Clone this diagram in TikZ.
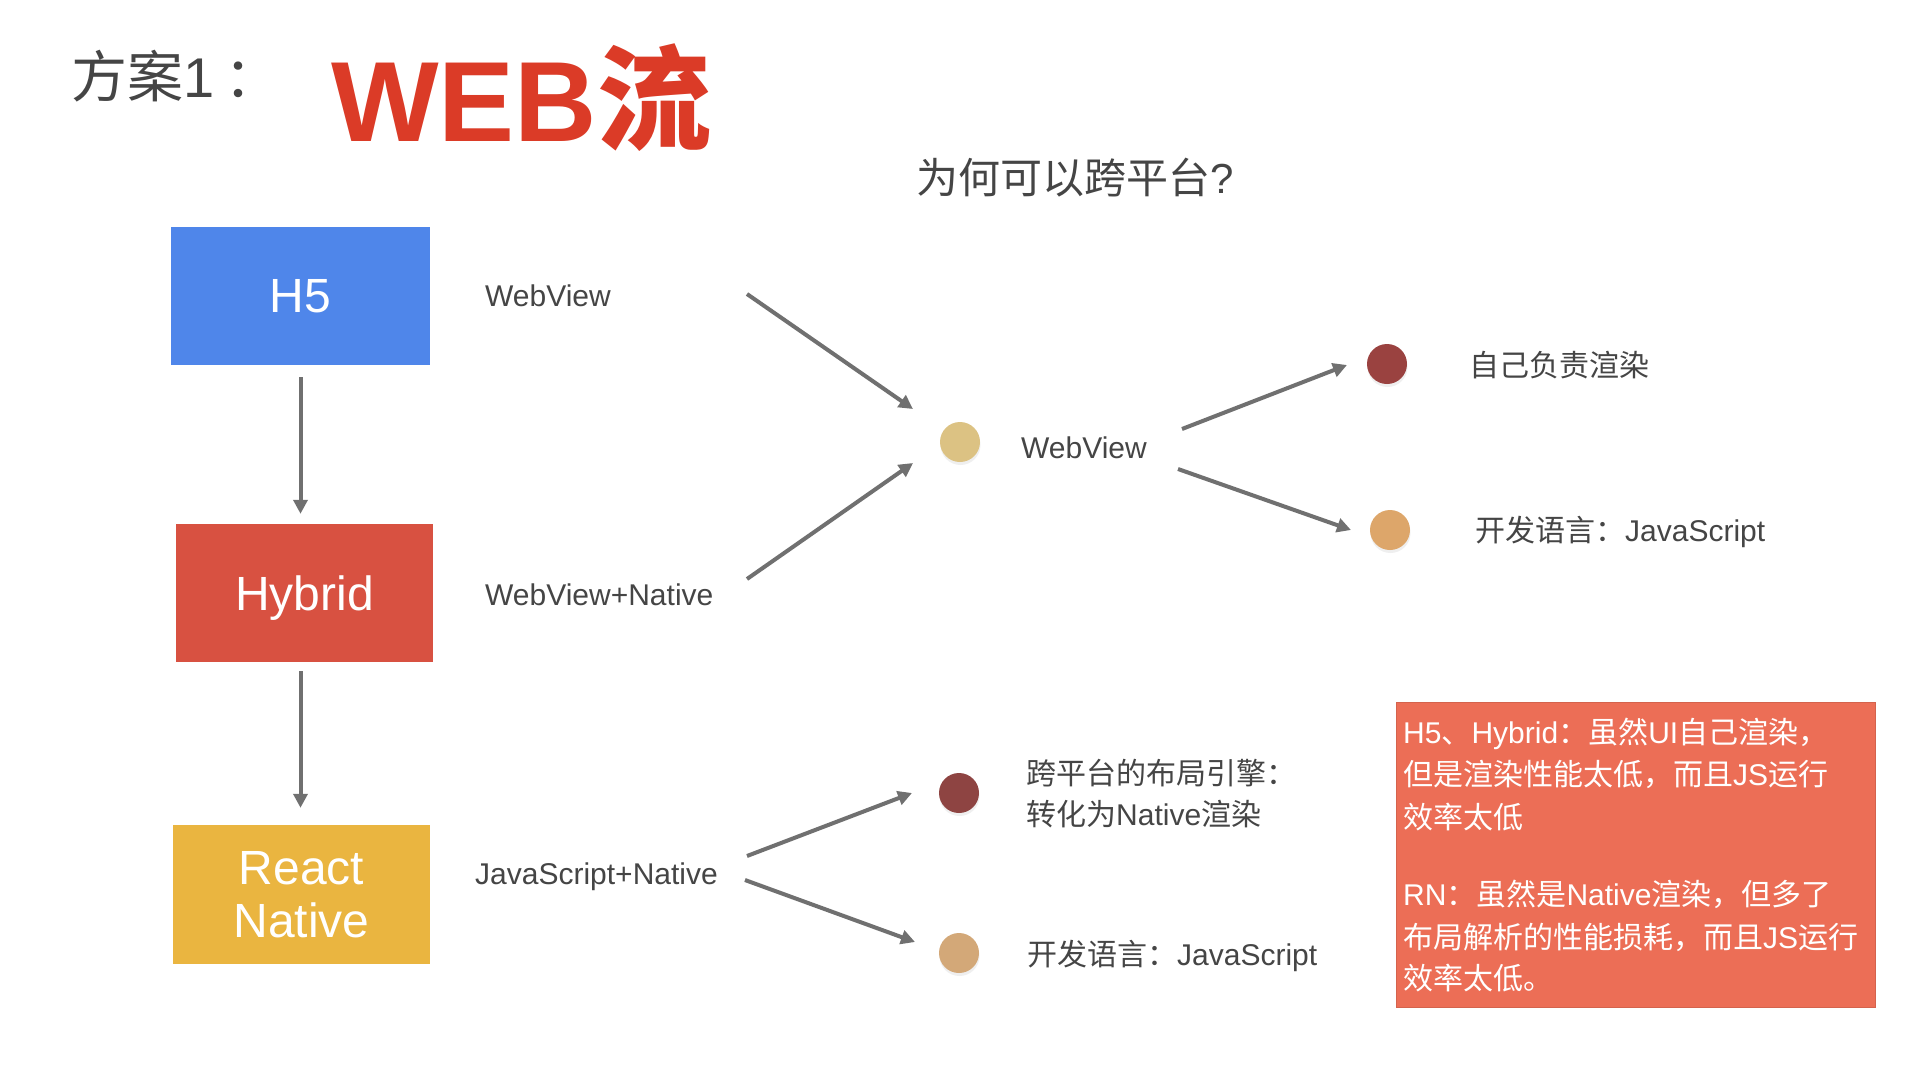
\documentclass[tikz,border=0pt]{standalone}
\usepackage{fontspec}
\setmainfont{Liberation Sans}
\newfontfamily\cjk{Noto Sans CJK SC}
\usetikzlibrary{arrows.meta,shadows}
\definecolor{txt}{HTML}{454545}
\definecolor{webred}{HTML}{DB3B27}
\definecolor{h5blue}{HTML}{4F86EA}
\definecolor{hyred}{HTML}{D85141}
\definecolor{rnyellow}{HTML}{EAB540}
\definecolor{arrgray}{HTML}{707070}
\definecolor{notered}{HTML}{EC6E56}
\definecolor{dotTan}{HTML}{DCC283}
\definecolor{dotDark}{HTML}{9A4240}
\definecolor{dotOrange}{HTML}{DDA66A}
\definecolor{dotDarkB}{HTML}{8E4442}
\definecolor{dotTanB}{HTML}{D3A878}
\tikzset{
  lbl/.style={anchor=base west, inner sep=0pt, text=txt, font=\fontsize{30}{36}\selectfont},
  notetxt/.style={anchor=base west, inner sep=0pt, text=white, font=\fontsize{30}{36}\selectfont},
  bigbox/.style={rectangle, inner sep=0pt, text=white, font=\fontsize{48}{53}\selectfont, align=center},
  dot/.style={circle, inner sep=0pt, minimum size=40pt, drop shadow={shadow xshift=0.5pt, shadow yshift=-3pt, opacity=0.12}},
  arr/.style={draw=arrgray, line width=4pt, -{Triangle[length=14pt,width=14pt]}},
}
\begin{document}
\begin{tikzpicture}[x=1pt,y=-1pt]
\useasboundingbox[fill=white] (0,0) rectangle (1920,1080);

% titles
\node[anchor=base west, inner sep=0pt, text=txt, font=\fontsize{56}{60}\selectfont] (t1) at (71,97) {{\cjk 方案}1\hspace{10pt}{\cjk ：}};
\node[anchor=base west, inner sep=0pt, text=webred, font=\fontsize{114}{120}\selectfont\bfseries] (t2) at (331,141) {WEB{\cjk\bfseries 流}};
\node[anchor=base west, inner sep=0pt, text=txt, font=\fontsize{42}{48}\selectfont] (t3) at (916,193) {{\cjk 为何可以跨平台}?};

% left boxes
\node[bigbox, fill=h5blue, minimum width=259pt, minimum height=138pt] (h5) at (300.5,296) {H5};
\node[bigbox, fill=hyred, minimum width=257pt, minimum height=138pt, text depth=0pt] (hy) at (304.5,593) {Hybrid};
\node[bigbox, fill=rnyellow, minimum width=257pt, minimum height=139pt] (rn) at (301.5,894.5) {React\\[0pt]Native};

\draw[arr, shorten <=12pt, shorten >=10pt] (h5.south) -- (h5.south |- hy.north);
\draw[arr, shorten <=9pt, shorten >=17pt] (h5.south |- hy.south) -- (h5.south |- rn.north);

% middle labels
\node[lbl] (wv1) at (485,306) {WebView};
\node[lbl] (wvn) at (485,605) {WebView+Native};
\node[lbl] (jsn) at (475,884) {JavaScript+Native};

% dots
\node[dot, fill=dotTan] (cw) at (960,442) {};
\node[lbl] (wv2) at (1021,458) {WebView};
\node[dot, fill=dotDark] (cself) at (1387,364) {};
\node[lbl] (self) at (1469,376) {\cjk 自己负责渲染};
\node[dot, fill=dotOrange] (cdev1) at (1390,530) {};
\node[lbl] (dev1) at (1475,541) {{\cjk 开发语言：}JavaScript};

\node[dot, fill=dotDarkB] (clay) at (959,793) {};
\node[lbl] (lay1) at (1026,784) {\cjk 跨平台的布局引擎：};
\node[lbl] (lay2) at (1026,825) {{\cjk 转化为}Native{\cjk 渲染}};
\node[dot, fill=dotTanB] (cdev2) at (959,953) {};
\node[lbl] (dev2) at (1027,965) {{\cjk 开发语言：}JavaScript};

% arrow end points
\coordinate (a1s) at (747,294);  \coordinate (a1e) at (913,409);
\coordinate (a2s) at (747,579);  \coordinate (a2e) at (913,463);
\coordinate (a3s) at (1182,429); \coordinate (a3e) at (1347,365);
\coordinate (a4s) at (1178,469); \coordinate (a4e) at (1351,530);
\coordinate (a5s) at (747,856);  \coordinate (a5e) at (912,793);
\coordinate (a6s) at (745,880);  \coordinate (a6e) at (915,942);
\draw[arr] (a1s) -- (a1e);
\draw[arr] (a2s) -- (a2e);
\draw[arr] (a3s) -- (a3e);
\draw[arr] (a4s) -- (a4e);
\draw[arr] (a5s) -- (a5e);
\draw[arr] (a6s) -- (a6e);

% note box
\node[rectangle, fill=notered, draw=notered!90!black, line width=0.8pt, minimum width=479pt, minimum height=305pt, inner sep=0pt] (note) at (1635.5,854.5) {};
\node[notetxt] (n1) at (1403,743) {H5{\cjk 、}Hybrid{\cjk ：虽然}UI{\cjk 自己渲染，}};
\node[notetxt] (n2) at (1403,785) {{\cjk 但是渲染性能太低，而且}JS{\cjk 运行}};
\node[notetxt] (n3) at (1403,828) {\cjk 效率太低};
\node[notetxt] (n4) at (1403,905) {RN{\cjk ：虽然是}Native{\cjk 渲染，但多了}};
\node[notetxt] (n5) at (1403,948) {{\cjk 布局解析的性能损耗，而且}JS{\cjk 运行}};
\node[notetxt] (n6) at (1403,989) {\cjk 效率太低。};
\end{tikzpicture}
\end{document}
